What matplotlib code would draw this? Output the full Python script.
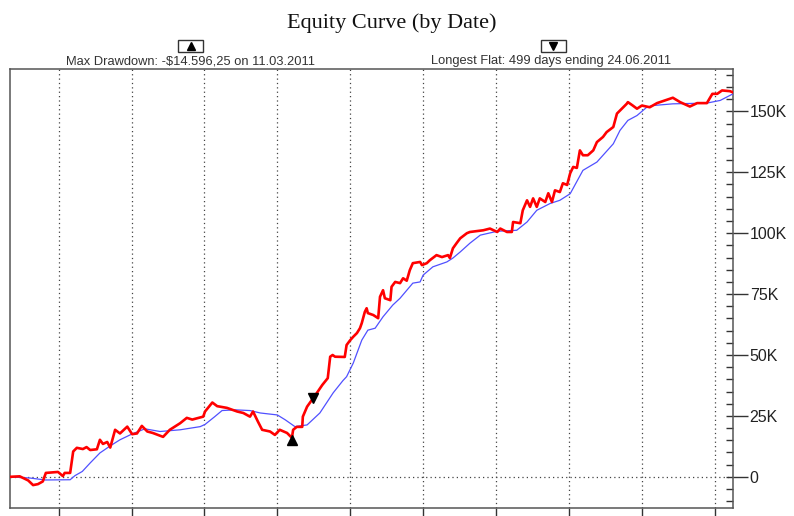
import matplotlib
matplotlib.use("Agg")
import matplotlib.pyplot as plt
import numpy as np
from matplotlib.lines import Line2D
from matplotlib.patches import Rectangle
from matplotlib.ticker import MultipleLocator, FuncFormatter

# time axis in months from start, equity in thousands of dollars
red_x = [0.0, 1.6, 3.0, 3.8, 4.6, 5.4, 5.9, 7.9, 8.7, 9.0, 9.9, 10.4, 11.0, 12.0, 12.6,
         13.2, 14.3, 14.8, 15.3, 16.0, 16.5, 17.3, 18.1, 19.3, 20.1, 20.9, 21.7, 22.6,
         23.5, 25.2, 26.3, 28.0, 29.1, 30.0, 31.8, 32.1, 33.3, 34.1, 35.7, 37.4, 38.4,
         39.5, 40.0, 40.8, 41.5, 42.8, 43.6, 44.4, 45.6, 46.4, 46.6, 47.2, 48.1, 48.2,
         48.9, 49.7, 50.5, 51.4, 52.3, 52.7, 53.1, 53.5, 55.1, 55.4, 56.0, 56.5, 57.1,
         57.6, 57.9, 58.4, 58.7, 58.9, 59.8, 60.6, 60.9, 61.4, 61.7, 62.6, 62.8, 63.4,
         64.2, 64.7, 65.3, 65.8, 66.3, 67.5, 67.8, 68.6, 69.1, 70.2, 71.1, 72.1, 72.4,
         72.9, 73.5, 74.1, 75.2, 75.7, 77.9, 79.0, 80.2, 80.7, 81.8, 82.6, 82.8, 84.0,
         84.4, 85.1, 85.6, 86.1, 86.7, 87.2, 88.1, 88.6, 89.2, 89.7, 90.5, 91.0, 91.7,
         92.2, 92.7, 93.3, 93.8, 94.3, 95.1, 96.0, 96.6, 97.6, 98.2, 99.3, 99.9, 100.7,
         101.5, 101.7, 102.5, 103.2, 104.0, 105.3, 106.5, 109.1, 110.3, 111.9, 113.1,
         114.7, 115.6, 116.4, 117.2, 118.5, 119.0]
red_y = [0.0, 0.2, -1.5, -3.4, -3.0, -1.9, 1.6, 2.0, 0.3, 1.6, 1.6, 10.4, 11.9, 11.4, 12.2,
         11.0, 11.3, 15.2, 13.5, 14.3, 12.0, 19.3, 17.8, 20.6, 17.5, 17.8, 20.9, 18.6,
         18.0, 16.4, 19.3, 22.0, 24.2, 23.5, 24.7, 26.8, 30.5, 29.0, 28.3, 26.8, 26.2,
         24.7, 26.8, 22.7, 19.3, 18.6, 17.2, 19.3, 18.0, 16.0, 19.3, 20.5, 20.5, 24.7,
         28.8, 31.6, 34.4, 37.7, 40.5, 49.3, 50.0, 49.3, 49.2, 54.1, 56.1, 57.5, 59.0,
         61.0, 63.1, 67.7, 69.2, 67.2, 66.4, 65.1, 73.9, 76.6, 73.3, 72.5, 78.0, 80.0,
         79.5, 81.5, 80.5, 84.8, 87.7, 88.2, 86.9, 87.7, 88.9, 91.0, 90.2, 91.0, 89.8,
         93.8, 95.9, 97.9, 100.0, 100.5, 101.2, 101.9, 100.5, 101.9, 100.5, 100.5, 104.6, 104.1,
         109.4, 113.5, 110.8, 114.3, 110.8, 114.3, 112.8, 116.4, 112.8, 117.6, 116.9, 120.5, 119.8,
         124.6, 127.2, 126.8, 134.0, 132.0, 132.0, 134.0, 137.4, 139.5, 141.5, 143.6, 149.1, 151.1,
         153.1, 153.8, 152.4, 151.1, 152.4, 151.7, 153.4, 155.6, 153.8, 152.0, 153.4,
         153.4, 157.2, 157.2, 158.6, 158.3, 157.8]

blue_x = [0.0, 3.3, 5.8, 9.9, 10.7, 11.9, 13.2, 14.8, 16.5, 18.1, 20.1, 22.2, 24.7, 28.0,
          31.3, 32.1, 33.7, 34.9, 37.0, 39.5, 41.2, 44.0, 45.3, 46.9, 48.9, 51.0, 53.2,
          54.8, 55.4, 56.5, 57.9, 58.9, 60.1, 61.4, 63.0, 64.2, 66.3, 67.5, 68.0, 69.6,
          71.9, 72.9, 74.1, 75.7, 77.4, 80.2, 83.4, 85.1, 86.7, 88.9, 90.5, 92.2, 94.3,
          96.6, 99.3, 100.4, 101.7, 103.2, 104.8, 105.8, 109.1, 114.7, 116.9, 119.0]
blue_y = [0.0, -0.5, -1.3, -1.2, 0.5, 2.2, 5.7, 9.8, 12.7, 15.2, 17.6, 19.7, 18.6, 19.3,
          20.6, 21.5, 24.7, 27.2, 27.5, 27.2, 26.2, 25.4, 23.4, 20.6, 21.3, 26.2, 34.5,
          39.5, 41.1, 46.7, 56.1, 60.2, 61.0, 65.7, 70.5, 73.3, 79.5, 80.0, 82.8, 86.2,
          88.2, 89.8, 92.3, 95.9, 99.2, 100.8, 101.2, 104.6, 109.4, 112.2, 113.5, 116.2, 125.8,
          129.2, 136.7, 142.2, 146.3, 148.3, 151.7, 152.4, 153.1, 153.4, 154.5, 157.2]

drawdown_pt = (46.4, 15.0)
flat_pt = (49.9, 32.2)
year_ticks = [8, 20, 32, 44, 56, 68, 80, 92, 104, 116]

title = "Equity Curve (by Date)"
dd_text = "Max Drawdown: -\\$14.596,25 on 11.03.2011"
flat_text = "Longest Flat: 499 days ending 24.06.2011"

plt.rcParams['font.family'] = ['Liberation Sans', 'DejaVu Sans']

fig = plt.figure(figsize=(7.94, 5.16), dpi=100)
ax = fig.add_axes([10 / 794, 8 / 516, 723 / 794, 439 / 516])

ax.plot(blue_x, blue_y, color='#5050ff', lw=0.9, zorder=3)
ax.plot(red_x, red_y, color='#ff0000', lw=1.9, zorder=4)
ax.plot(*drawdown_pt, marker='^', color='black', ms=7, zorder=5)
ax.plot(*flat_pt, marker='v', color='black', ms=7, zorder=5)

ax.set_xlim(0, 119)
ax.set_ylim(-12.8, 167.4)

ax.set_xticks(year_ticks)
ax.set_xticklabels([])
for xv in year_ticks:
    ax.axvline(xv, color='#444444', ls=(0, (1, 2.5)), lw=0.9, zorder=1)
ax.axhline(0, color='#444444', ls=(0, (1, 2.5)), lw=0.9, zorder=1)

ax.yaxis.tick_right()
ax.yaxis.set_major_locator(MultipleLocator(25))
ax.yaxis.set_minor_locator(MultipleLocator(5))
ax.yaxis.remove_overlapping_locs = False
ax.yaxis.set_major_formatter(FuncFormatter(lambda v, p: "0" if v == 0 else f"{v:g}K"))
ax.tick_params(axis='y', which='major', direction='out', length=11, width=1.0,
               color='#333333', labelsize=11.5, pad=1, labelcolor='#222222')
ax.tick_params(axis='y', which='minor', direction='in', length=5, width=1.0, color='#333333')
ax.tick_params(axis='x', which='major', direction='out', length=7, width=1.0, color='#333333')
for s in ax.spines.values():
    s.set_color('#555555')
    s.set_linewidth(1.1)

fig.text(392 / 794, 1 - 23 / 516, title, ha='center', va='center',
         family=['Liberation Serif', 'DejaVu Serif'], fontsize=16, color='#111111')
fig.text(190 / 794, 1 - 61 / 516, dd_text, ha='center', va='center', fontsize=9.3, color='#333333')
fig.text(551 / 794, 1 - 61 / 516, flat_text, ha='center', va='center', fontsize=9.3, color='#333333')

for cx, mk in [(190.5, '^'), (553, 'v')]:
    fig.add_artist(Rectangle(((cx - 12.5) / 794, 1 - 52 / 516), 25 / 794, 12 / 516,
                             transform=fig.transFigure, fc='white', ec='#333333', lw=1.0))
    fig.add_artist(Line2D([cx / 794], [1 - 46 / 516], marker=mk, color='black', ms=6,
                          transform=fig.transFigure))

fig.savefig("out.png", dpi=100)
